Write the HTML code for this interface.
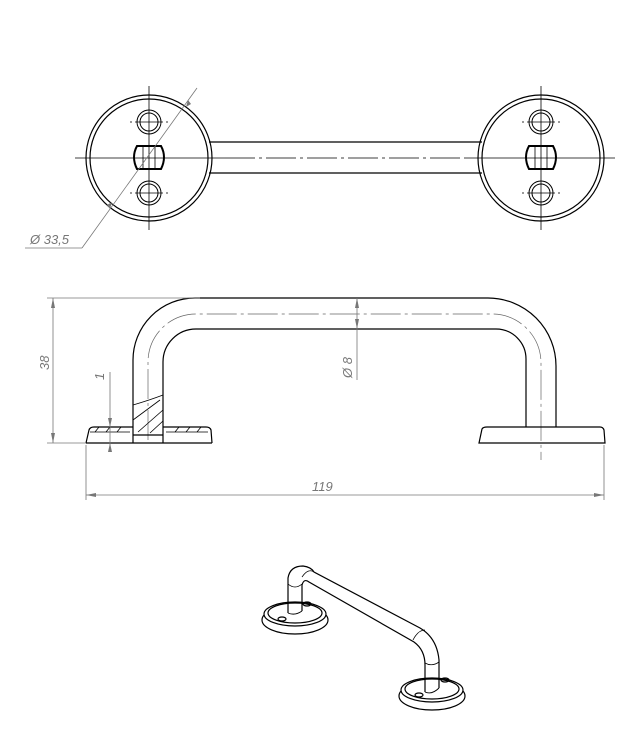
<!DOCTYPE html>
<html><head><meta charset="utf-8"><style>
html,body{margin:0;padding:0;background:#fff;}
svg{display:block}
text{font-family:"Liberation Sans",sans-serif;font-style:italic;fill:#777;font-size:13px}
</style></head><body>
<svg width="637" height="747" viewBox="0 0 637 747" xmlns="http://www.w3.org/2000/svg">
<g fill="none" stroke="#000" stroke-width="1.2">
<!-- TOP VIEW -->
<circle cx="149" cy="158" r="63"/><circle cx="149" cy="158" r="59"/>
<circle cx="541" cy="158" r="63"/><circle cx="541" cy="158" r="59"/>
<line x1="209" y1="142" x2="482" y2="142"/><line x1="209" y1="173" x2="482" y2="173"/>
<g stroke-width="1">
<circle cx="149" cy="122" r="12"/><circle cx="149" cy="122" r="9"/>
<circle cx="149" cy="193" r="12"/><circle cx="149" cy="193" r="9"/>
<circle cx="541" cy="122" r="12"/><circle cx="541" cy="122" r="9"/>
<circle cx="541" cy="193" r="12"/><circle cx="541" cy="193" r="9"/>
</g>
<path d="M137,146 L161,146 Q167,157 161,169 L137,169 Q131,157 137,146Z" stroke-width="2"/>
<path d="M529,146 L553,146 Q559,157 553,169 L529,169 Q523,157 529,146Z" stroke-width="2"/>
<g stroke-width="0.8">
<line x1="143" y1="146" x2="143" y2="169"/><line x1="155" y1="146" x2="155" y2="169"/>
<line x1="535" y1="146" x2="535" y2="169"/><line x1="547" y1="146" x2="547" y2="169"/>
<line x1="75" y1="158" x2="225" y2="158"/>
<line x1="225" y1="158" x2="465" y2="158" stroke-dasharray="30,4,3,4"/>
<line x1="465" y1="158" x2="615" y2="158"/>
<line x1="149" y1="86" x2="149" y2="230"/><line x1="541" y1="86" x2="541" y2="230"/>
<line x1="135" y1="122" x2="163" y2="122"/><line x1="135" y1="193" x2="163" y2="193"/>
<line x1="527" y1="122" x2="555" y2="122"/><line x1="527" y1="193" x2="555" y2="193"/>
<line x1="130" y1="122" x2="132" y2="122"/><line x1="166" y1="122" x2="168" y2="122"/>
<line x1="130" y1="193" x2="132" y2="193"/><line x1="166" y1="193" x2="168" y2="193"/>
<line x1="522" y1="122" x2="524" y2="122"/><line x1="558" y1="122" x2="560" y2="122"/>
<line x1="522" y1="193" x2="524" y2="193"/><line x1="558" y1="193" x2="560" y2="193"/>
</g>
<!-- FRONT VIEW -->
<path d="M133,427 L133,360 A62,62 0 0 1 195,298 L488,298 A68,68 0 0 1 556,366 L556,427"/>
<path d="M163,427 L163,362 A33,33 0 0 1 196,329 L496,329 A30,30 0 0 1 526,359 L526,427"/>
<path d="M148,440 L148,362 A48,48 0 0 1 196,314 L492,314 A49,49 0 0 1 541,363 L541,460" stroke-width="0.7" stroke="#666" stroke-dasharray="30,4,3,4"/>
<path d="M86,443 L89,430 Q90,427 94,427 L133,427"/>
<path d="M163,427 L206,427 Q210,427 211,430 L212,443"/>
<line x1="86" y1="443" x2="212" y2="443"/>
<line x1="133" y1="427" x2="133" y2="443"/><line x1="163" y1="427" x2="163" y2="443"/>
<line x1="133" y1="435" x2="163" y2="435"/>
<path d="M90,432 L130,432 M166,432 L208,432" stroke-width="0.8"/>
<path d="M133,405 Q150,400 163,395" stroke-width="0.8"/>
<g stroke-width="0.8">
<line x1="133" y1="420" x2="160" y2="400"/><line x1="138" y1="432" x2="163" y2="410"/><line x1="150" y1="433" x2="163" y2="421"/>
<line x1="95" y1="432" x2="99" y2="427"/><line x1="106" y1="432" x2="110" y2="427"/><line x1="117" y1="432" x2="121" y2="427"/>
<line x1="175" y1="432" x2="179" y2="427"/><line x1="186" y1="432" x2="190" y2="427"/><line x1="197" y1="432" x2="201" y2="427"/>
</g>
<path d="M479,443 L482,429 Q483,427 487,427 L600,427 Q603,427 604,430 L605,443 Z"/>
<!-- ISO VIEW -->
<ellipse cx="295" cy="620" rx="33" ry="14"/><ellipse cx="295" cy="614" rx="31" ry="12" fill="#fff"/><ellipse cx="295" cy="613" rx="27" ry="10"/>
<ellipse cx="432" cy="696" rx="33" ry="14"/><ellipse cx="432" cy="690" rx="31" ry="12" fill="#fff"/><ellipse cx="432" cy="689" rx="27" ry="10"/>
<ellipse cx="282" cy="619" rx="4" ry="2"/><ellipse cx="307" cy="604" rx="4" ry="2"/>
<ellipse cx="419" cy="695" rx="4" ry="2"/><ellipse cx="445" cy="680" rx="4" ry="2"/>
<path d="M288,613 L288,578 Q290,566 303,566 Q311,567 314,572 L420,628 Q437,638 439,660 L439,688"/>
<path d="M302,611 L302,585 Q304,578 309,582 L414,642 Q425,650 425,665 L425,692"/>
<path d="M288,613 Q295,616 302,611 M425,692 Q432,695 439,688" stroke-width="0.9"/>
<path d="M302,577 Q308,568 314,572 M413,640 Q418,630 425,630 M425,663 Q432,667 439,662 M288,584 Q295,590 302,584" stroke-width="0.8"/>
</g>
<!-- DIMENSIONS -->
<g fill="none" stroke="#777" stroke-width="0.8">
<line x1="197" y1="88" x2="82" y2="248"/><line x1="82" y1="248" x2="25" y2="248"/>
<line x1="47" y1="298" x2="200" y2="298"/><line x1="47" y1="443" x2="86" y2="443"/>
<line x1="53" y1="298" x2="53" y2="443"/>
<line x1="86" y1="445" x2="86" y2="500"/><line x1="604" y1="445" x2="604" y2="500"/>
<line x1="86" y1="495" x2="604" y2="495"/>
<line x1="110" y1="372" x2="110" y2="452"/>
<line x1="357" y1="298" x2="357" y2="380"/>
</g>
<g fill="#777">
<path d="M53,298 l-2,10 h4z"/><path d="M53,443 l-2,-10 h4z"/>
<path d="M86,495 l10,-2 v4z"/><path d="M604,495 l-10,-2 v4z"/>
<path d="M357,298 l-2,10 h4z"/><path d="M357,329 l-2,-10 h4z"/>
<path d="M110,427 l-2,-9 h4z"/><path d="M110,443 l-2,9 h4z"/>
<path d="M188,100 l-2,7 l5,-3z"/><path d="M110,209 l2,-7 l-5,3z"/>
</g>
<text x="30" y="244">Ø 33,5</text>
<text transform="translate(49,370) rotate(-90)">38</text>
<text transform="translate(104,380) rotate(-90)">1</text>
<text transform="translate(352,378) rotate(-90)">Ø 8</text>
<text x="312" y="491">119</text>
</svg>
</body></html>
